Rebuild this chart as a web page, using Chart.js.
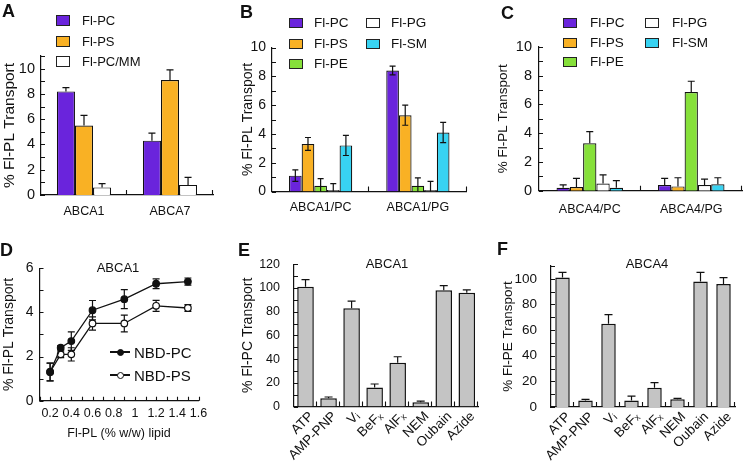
<!DOCTYPE html>
<html>
<head>
<meta charset="utf-8">
<script src="https://cdn.jsdelivr.net/npm/chart.js@4.4.1/dist/chart.umd.min.js"></script>
<style>
  body { margin: 0; background: #fff; }
  #fig { position: relative; width: 745px; height: 463px; overflow: hidden;
         font-family: 'Liberation Sans', Arial, sans-serif; color: #111; }
  #fig canvas { position: absolute; }
  .letter { position: absolute; font-weight: bold; font-size: 18px; line-height: 1; }
  .lab { position: absolute; white-space: nowrap; line-height: 1; transform: translateY(-50%); }
  .ctr { position: absolute; white-space: nowrap; line-height: 1; transform: translate(-50%, -50%); }
  .sw { position: absolute; box-sizing: border-box; border: 1px solid #222; }
</style>
</head>
<body>
<div id="fig">
  <canvas id="cA" width="240" height="230" style="left:0;top:0"></canvas>
  <canvas id="cB" width="250" height="230" style="left:240px;top:0"></canvas>
  <canvas id="cC" width="255" height="230" style="left:490px;top:0"></canvas>
  <canvas id="cD" width="240" height="233" style="left:0;top:230px"></canvas>
  <canvas id="cE" width="250" height="233" style="left:240px;top:230px"></canvas>
  <canvas id="cF" width="255" height="233" style="left:490px;top:230px"></canvas>
</div>
<script>
// ---- data ----
const groupsA = ['ABCA1', 'ABCA7'];
const pcA = [8.2, 4.3], pcAErr = [0.3, 0.6];
const psA = [5.5, 9.1], psAErr = [0.8, 0.8];
const mmA = [0.6, 0.8], mmAErr = [0.3, 0.6];

const groupsB = ['ABCA1/PC', 'ABCA1/PG'];
const pcB = [1.1, 8.4], pcBErr = [0.4, 0.3];
const psB = [3.3, 5.3], psBErr = [0.45, 0.7];
const peB = [0.4, 0.4], peBErr = [0.5, 0.55];
const pgB = [0.1, 0.1], pgBErr = [0.45, 0.6];
const smB = [3.2, 4.1], smBErr = [0.7, 0.7];

const groupsC = ['ABCA4/PC', 'ABCA4/PG'];
const pcC = [0.2, 0.4], pcCErr = [0.2, 0.45];
const psC = [0.25, 0.3], psCErr = [0.6, 0.6];
const peC = [3.3, 6.85], peCErr = [0.8, 0.75];
const pgC = [0.5, 0.4], pgCErr = [0.6, 0.4];
const smC = [0.2, 0.45], smCErr = [0.5, 0.45];

const lipidD = [0.2, 0.3, 0.4, 0.6, 0.9, 1.2, 1.5];
const nbdPC = [1.3, 2.4, 2.7, 4.1, 4.6, 5.3, 5.4];
const nbdPCErr = [0.4, 0.1, 0.42, 0.44, 0.43, 0.22, 0.16];
const nbdPS = [1.3, 2.1, 2.1, 3.5, 3.5, 4.3, 4.2];
const nbdPSErr = [0.4, 0.15, 0.3, 0.3, 0.38, 0.25, 0.15];

const treatments = ['ATP', 'AMP-PNP', 'V\u1D62', 'BeF\u2093', 'AlF\u2093', 'NEM', 'Oubain', 'Azide'];
const transE = [101, 7, 83, 16, 37, 3.5, 98, 96];
const transEErr = [6, 1, 6, 3, 5, 1, 4, 2.5];
const transF = [101, 5, 65, 5, 15, 6, 98, 96];
const transFErr = [4, 1, 7, 3.5, 4, 0.7, 7, 5];

const PC = '#6a24dc', PS = '#f9b124', PE = '#86e03a', PG = '#ffffff', SM = '#38d3f2', GREY = '#c4c4c4';

Chart.defaults.font.family = "'Liberation Sans', Arial, sans-serif";
Chart.defaults.color = '#111';
Chart.defaults.animation = false;

// error bars: one-sided (up) or two-sided
function drawErrors(chart, opts) {
  const { ctx } = chart;
  const y = chart.scales.y;
  const cap = opts.cap || 3.5;
  ctx.save();
  ctx.strokeStyle = '#111';
  ctx.lineWidth = opts.width || 1.2;
  chart.data.datasets.forEach((ds, di) => {
    if (!ds.errors) return;
    chart.getDatasetMeta(di).data.forEach((el, i) => {
      const d = ds.data[i];
      const v = typeof d === 'object' ? d.y : d;
      const e = ds.errors[i];
      const top = y.getPixelForValue(v + e);
      const low = Math.max(v - e, 0);
      const bot = opts.both ? y.getPixelForValue(low) : el.y;
      ctx.beginPath();
      ctx.moveTo(el.x, bot);
      ctx.lineTo(el.x, top);
      ctx.moveTo(el.x - cap, top);
      ctx.lineTo(el.x + cap, top);
      if (opts.both && low > 0) {
        ctx.moveTo(el.x - cap, bot);
        ctx.lineTo(el.x + cap, bot);
      }
      ctx.stroke();
    });
  });
  ctx.restore();
}

const errorBars = {
  id: 'errorBars',
  beforeDatasetsDraw(chart, args, opts) { if (opts.before) drawErrors(chart, opts); },
  afterDatasetsDraw(chart, args, opts) { if (!opts.before) drawErrors(chart, opts); }
};

// tick marks drawn inward from the axes
const axisMarks = {
  id: 'axisMarks',
  afterDraw(chart, args, o) {
    const { ctx, chartArea: a, scales: { x, y } } = chart;
    ctx.save();
    ctx.strokeStyle = '#111';
    ctx.lineWidth = 1.1;
    ctx.beginPath();
    y.ticks.forEach(t => {
      const p = Math.round(y.getPixelForValue(t.value)) + 0.5;
      ctx.moveTo(a.left, p);
      ctx.lineTo(a.left + o.y, p);
    });
    if (x.type === 'category') {
      const n = chart.data.labels.length;
      const w = (a.right - a.left) / n;
      for (let i = 1; i <= n; i++) {
        const p = Math.round(a.left + w * i) - 0.5;
        ctx.moveTo(p, a.bottom);
        ctx.lineTo(p, a.bottom - o.x);
      }
    } else {
      x.ticks.forEach(t => {
        const p = Math.round(x.getPixelForValue(t.value)) + 0.5;
        ctx.moveTo(p, a.bottom);
        ctx.lineTo(p, a.bottom - o.x);
      });
    }
    ctx.stroke();
    ctx.restore();
  }
};

Chart.register(errorBars, axisMarks);

function barOpts(o) {
  return {
    responsive: false,
    layout: { padding: o.pad },
    plugins: {
      legend: { display: false },
      tooltip: { enabled: false },
      errorBars: { both: !!o.both, cap: o.cap || 3.5 },
      axisMarks: { y: 4, x: 5 }
    },
    datasets: {
      bar: { barPercentage: o.barPct || 1, categoryPercentage: o.catPct,
             borderColor: '#111', borderWidth: o.bw || 1.2 }
    },
    scales: {
      x: {
        grid: { display: false, drawTicks: false },
        border: { color: '#111', width: 1.2 },
        ticks: { font: { size: o.xFont || 12.5 }, padding: o.labelPad, autoSkip: false,
                 labelOffset: o.labelOffset || 0,
                 minRotation: o.rot || 0, maxRotation: o.rot || 0 },
        afterFit: s => { s.height = o.xh; }
      },
      y: {
        min: 0, max: o.max,
        grid: { display: false, drawTicks: false },
        border: { color: '#111', width: 1.2 },
        ticks: { stepSize: o.step, maxTicksLimit: 100, autoSkip: false, padding: o.yPad,
                 font: { size: o.tickFont },
                 callback: v => (v % o.labelEvery === 0 ? v : '') },
        title: { display: true, text: o.title, font: { size: o.titleFont },
                 padding: { top: o.titlePad, bottom: 0 } },
        afterFit: s => { s.width = o.yw; }
      }
    }
  };
}

function bar(data, errors, color) {
  return { data, errors, backgroundColor: color };
}

// ---- A ----
new Chart(document.getElementById('cA'), {
  type: 'bar',
  data: { labels: groupsA, datasets: [bar(pcA, pcAErr, PC), bar(psA, psAErr, PS), bar(mmA, mmAErr, '#fff')] },
  options: barOpts({ pad: { left: 0, top: 56, right: 27, bottom: 0 }, yw: 41, xh: 35, max: 11, step: 1,
    labelEvery: 2, catPct: 0.63, tickFont: 14.5, labelPad: 9, yPad: 6,
    title: '% Fl-PL Transport', titleFont: 15.5, titlePad: 0 })
});

// ---- B ----
new Chart(document.getElementById('cB'), {
  type: 'bar',
  data: { labels: groupsB, datasets: [bar(pcB, pcBErr, PC), bar(psB, psBErr, PS), bar(peB, peBErr, PE),
    bar(pgB, pgBErr, PG), bar(smB, smBErr, SM)] },
  options: barOpts({ pad: { left: 0, top: 47.5, right: 23.5, bottom: 0 }, yw: 32, xh: 38.5, max: 10, step: 1,
    labelEvery: 2, catPct: 0.65, tickFont: 14, labelPad: 9, yPad: 6, both: true, cap: 3,
    title: '% Fl-PL Transport', titleFont: 14, titlePad: 0 })
});

// ---- C ----
new Chart(document.getElementById('cC'), {
  type: 'bar',
  data: { labels: groupsC, datasets: [bar(pcC, pcCErr, PC), bar(psC, psCErr, PS), bar(peC, peCErr, PE),
    bar(pgC, pgCErr, PG), bar(smC, smCErr, SM)] },
  options: barOpts({ pad: { left: 0, top: 46.7, right: 3, bottom: 0 }, yw: 49, xh: 39.3, max: 10, step: 1,
    labelEvery: 2, catPct: 0.655, tickFont: 14.5, labelPad: 11, yPad: 7, cap: 3.5,
    title: '% Fl-PL Transport', titleFont: 13.5, titlePad: 5 })
});

// ---- D ----
const pts = (xs, ys) => xs.map((x, i) => ({ x, y: ys[i] }));
new Chart(document.getElementById('cD'), {
  type: 'line',
  data: {
    datasets: [
      { data: pts(lipidD, nbdPC), errors: nbdPCErr, borderColor: '#111', backgroundColor: '#111',
        pointBackgroundColor: '#111', pointBorderColor: '#111', pointRadius: 3.3, pointBorderWidth: 1.2, borderWidth: 1.3 },
      { data: pts(lipidD, nbdPS), errors: nbdPSErr, borderColor: '#111', backgroundColor: '#fff',
        pointBackgroundColor: '#fff', pointBorderColor: '#111', pointRadius: 3.3, pointBorderWidth: 1.2, borderWidth: 1.3 }
    ]
  },
  options: {
    responsive: false,
    layout: { padding: { left: 0, top: 38.3, right: 41.5, bottom: 0 } },
    plugins: {
      legend: { display: false }, tooltip: { enabled: false },
      errorBars: { both: true, before: true, cap: 3.5 },
      axisMarks: { y: 4, x: 4 }
    },
    scales: {
      x: {
        type: 'linear', min: 0.1, max: 1.6,
        grid: { display: false, drawTicks: false },
        border: { color: '#111', width: 1.2 },
        ticks: { stepSize: 0.1, maxTicksLimit: 100, autoSkip: false, maxRotation: 0, padding: 5, font: { size: 12.5 },
                 callback: v => { const k = Math.round(v * 10); return k % 2 === 0 ? String(k / 10) : ''; } },
        title: { display: true, text: 'Fl-PL (% w/w) lipid', font: { size: 12.5 }, padding: { top: 0, bottom: 22 } },
        afterFit: s => { s.height = 62.3; }
      },
      y: {
        min: 0, max: 6,
        grid: { display: false, drawTicks: false },
        border: { color: '#111', width: 1.2 },
        ticks: { stepSize: 1, autoSkip: false, padding: 6, font: { size: 14 },
                 callback: v => (v % 2 === 0 ? v : '') },
        title: { display: true, text: '% Fl-PL Transport', font: { size: 14 }, padding: { top: 1, bottom: 0 } },
        afterFit: s => { s.width = 39.5; }
      }
    }
  }
});

// ---- E ----
new Chart(document.getElementById('cE'), {
  type: 'bar',
  data: { labels: treatments, datasets: [bar(transE, transEErr, GREY)] },
  options: barOpts({ pad: { left: 0, top: 34.3, right: 11.7, bottom: 0 }, yw: 54, xh: 56.5, max: 120, step: 10,
    labelEvery: 20, catPct: 1, barPct: 0.72, bw: 1.5, tickFont: 12.5, labelPad: 2, yPad: 14, rot: 45, xFont: 13.5,
    labelOffset: 6, cap: 4, title: '% Fl-PC Transport', titleFont: 14, titlePad: 0 })
});

// ---- F ----
new Chart(document.getElementById('cF'), {
  type: 'bar',
  data: { labels: treatments, datasets: [bar(transF, transFErr, GREY)] },
  options: barOpts({ pad: { left: 0, top: 36, right: 10, bottom: 0 }, yw: 61, xh: 56, max: 110, step: 10,
    labelEvery: 20, catPct: 1, barPct: 0.63, bw: 1.5, tickFont: 13.5, labelPad: 2, yPad: 14, rot: 45, xFont: 13.5,
    labelOffset: 6, cap: 4, title: '% Fl-PE Transport', titleFont: 13.5, titlePad: 10 })
});

// ---- letters, legends, inner titles ----
const fig = document.getElementById('fig');
function put(cls, x, y, text, size) {
  const d = document.createElement('div');
  d.className = cls;
  d.style.left = x + 'px';
  d.style.top = y + 'px';
  if (size) d.style.fontSize = size + 'px';
  d.textContent = text;
  fig.appendChild(d);
  return d;
}
function swatch(x, y, w, h, color) {
  const d = document.createElement('div');
  d.className = 'sw';
  Object.assign(d.style, { left: x + 'px', top: (y - h / 2) + 'px', width: w + 'px', height: h + 'px', background: color });
  fig.appendChild(d);
}

[['A', 2, 2], ['B', 240, 3], ['C', 501, 4], ['D', 0, 241], ['E', 238, 241], ['F', 497, 240]]
  .forEach(([t, x, y]) => put('letter', x, y, t));

// legend A
[['Fl-PC', PC, 20], ['Fl-PS', PS, 41], ['Fl-PC/MM', '#fff', 61]].forEach(([t, c, y]) => {
  swatch(56, y, 13.5, 11, c);
  put('lab', 82, y, t, 13);
});
// legend B
[['Fl-PC', PC, 289, 23], ['Fl-PS', PS, 289, 44], ['Fl-PE', PE, 289, 64],
 ['Fl-PG', PG, 366, 23], ['Fl-SM', SM, 366, 44]].forEach(([t, c, x, y]) => {
  swatch(x, y, 14, 10, c);
  put('lab', x + 25, y, t, 13.5);
});
// legend C
[['Fl-PC', PC, 563, 23], ['Fl-PS', PS, 563, 43], ['Fl-PE', PE, 563, 62],
 ['Fl-PG', PG, 645, 23], ['Fl-SM', SM, 645, 43]].forEach(([t, c, x, y]) => {
  swatch(x, y, 14, 9.5, c);
  put('lab', x + 27, y, t, 13.5);
});

// legend D
[['NBD-PC', '#111', 352], ['NBD-PS', '#fff', 375]].forEach(([t, c, y]) => {
  const ln = document.createElement('div');
  Object.assign(ln.style, { position: 'absolute', left: '110px', top: (y - 0.6) + 'px', width: '20px', height: '1.3px', background: '#111' });
  fig.appendChild(ln);
  const dot = document.createElement('div');
  Object.assign(dot.style, { position: 'absolute', left: '116.5px', top: (y - 3.5) + 'px', width: '7px', height: '7px',
    boxSizing: 'border-box', border: '1.2px solid #111', borderRadius: '50%', background: c });
  fig.appendChild(dot);
  put('lab', 134, y, t, 15);
});

put('ctr', 118, 267, 'ABCA1', 13);
put('ctr', 387, 263, 'ABCA1', 13);
put('ctr', 647, 263, 'ABCA4', 13);
</script>
</body>
</html>
